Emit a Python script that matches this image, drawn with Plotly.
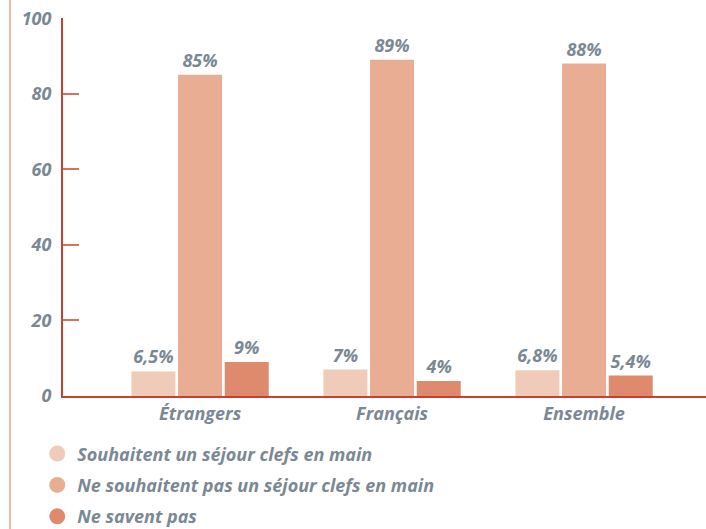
import plotly.graph_objects as go

categories = ["Étrangers", "Français", "Ensemble"]
series_names = ["Souhaitent un séjour clefs en main",
                "Ne souhaitent pas un séjour clefs en main",
                "Ne savent pas"]
souhaitent = [6.5, 7, 6.8]
ne_souhaitent_pas = [85, 89, 88]
ne_savent_pas = [9, 4, 5.4]
label_souhaitent = ["6,5%", "7%", "6,8%"]
label_ne_souhaitent_pas = ["85%", "89%", "88%"]
label_ne_savent_pas = ["9%", "4%", "5,4%"]
y_ticks = [0, 20, 40, 60, 80, 100]

colors = ["#F0CCB8", "#E8AD93", "#DE8B6D"]
grey = "#7B8893"
font_family = "Open Sans"
lab_font = dict(family=font_family, size=18, color=grey)

fig = go.Figure()
series = [(souhaitent, label_souhaitent), (ne_souhaitent_pas, label_ne_souhaitent_pas),
          (ne_savent_pas, label_ne_savent_pas)]
for i, (vals, labs) in enumerate(series):
    fig.add_trace(go.Bar(
        x=categories, y=vals, marker=dict(color=colors[i], line=dict(width=0)),
        text=["<b><i>%s</i></b>" % t for t in labs], textposition="outside",
        textfont=lab_font, cliponaxis=False, showlegend=False,
    ))
for i, name in enumerate(series_names):
    fig.add_trace(go.Scatter(
        x=[None], y=[None], mode="markers", name="<b><i>%s</i></b>" % name,
        marker=dict(symbol="circle", size=16, color=colors[i]),
        legendgroup="g%d" % i,
    ))

fig.update_layout(
    width=706, height=529,
    margin=dict(l=63, r=0, t=18, b=133, autoexpand=False),
    plot_bgcolor="white", paper_bgcolor="white",
    barmode="group", bargap=0.271, bargroupgap=0.057,
    font=dict(family=font_family, color=grey, size=18),
    showlegend=True,
    legend=dict(x=-0.040, y=-0.104, xanchor="left", yanchor="top",
                font=dict(family=font_family, size=18, color=grey),
                tracegroupgap=5, bgcolor="rgba(0,0,0,0)"),
    xaxis=dict(range=[-0.714, 2.635], showline=True, linecolor="#C8402E", linewidth=2,
               ticks="", showgrid=False, zeroline=False, automargin=False,
               tickvals=categories, ticktext=["<b><i>%s</i></b>" % c for c in categories],
               tickfont=lab_font),
    yaxis=dict(range=[0, 100.05], tickvals=y_ticks, automargin=False,
               ticktext=["<b><i>%d</i></b>" % v for v in y_ticks],
               showline=True, linecolor="#C8402E", linewidth=2,
               ticks="inside", ticklen=16, tickwidth=2, tickcolor="#D7705C",
               ticklabeloverflow="allow",
               showgrid=False, zeroline=False, tickfont=lab_font, ticklabelstandoff=6),
    shapes=[dict(type="line", xref="paper", yref="paper",
                 x0=-53/643, x1=-53/643, y0=1.05, y1=-0.36,
                 line=dict(color="#F3B9A5", width=2))],
)

# remove the browser's default 8px body margin so the figure fills the window
fig.write_html("out.html", config={"displayModeBar": False},
               post_script="document.body.style.margin='0';")
